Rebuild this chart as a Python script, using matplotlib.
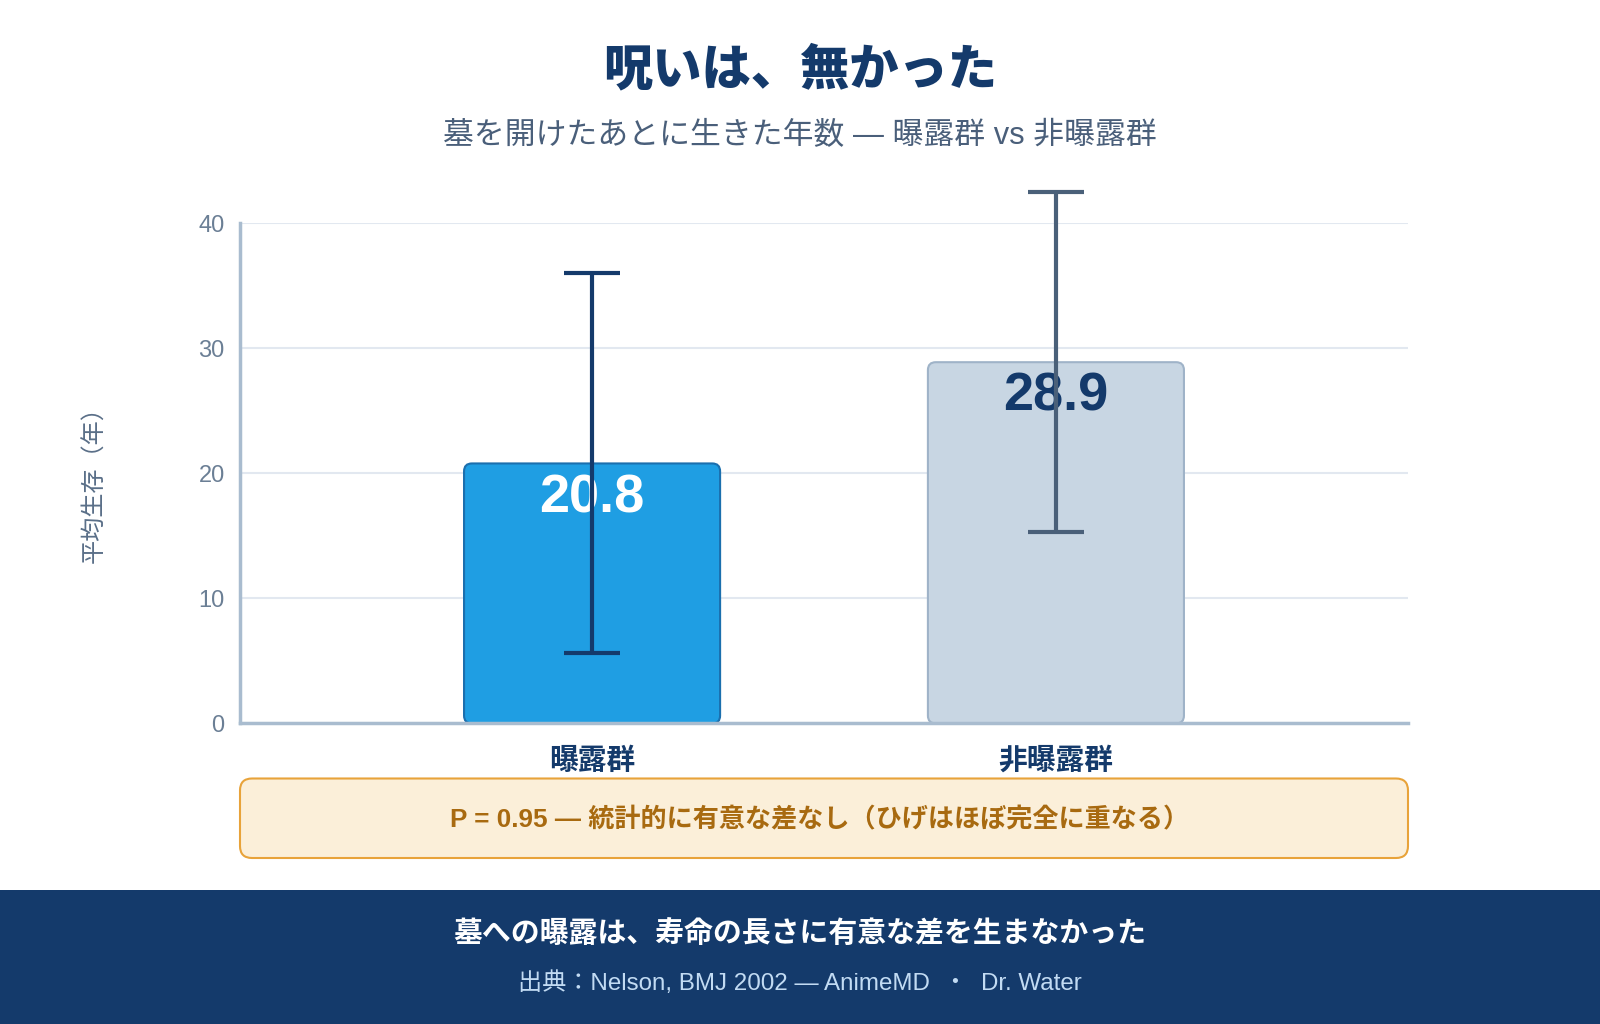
import matplotlib
matplotlib.use("Agg")
from matplotlib import pyplot as plt
from matplotlib.patches import FancyBboxPatch, Rectangle
import numpy as np

plt.rcParams['font.family'] = ['Liberation Sans', 'Noto Sans CJK JP']

# data
groups = ['曝露群', '非曝露群']
mean_years = [20.8, 28.9]
err_years = [15.2, 13.6]
y_ticks = [0, 10, 20, 30, 40]

title = '呪いは、無かった'
subtitle = '墓を開けたあとに生きた年数 — 曝露群 vs 非曝露群'
ylabel = '平均生存（年）'
note = 'P = 0.95 — 統計的に有意な差なし（ひげはほぼ完全に重なる）'
footer1 = '墓への曝露は、寿命の長さに有意な差を生まなかった'
footer2 = '出典：Nelson, BMJ 2002 — AnimeMD  ・  Dr. Water'

navy = '#143a6b'
bar_fill = ['#1f9ee3', '#c8d6e3']
bar_edge = ['#1b6fae', '#9fb3c8']
err_color = [navy, '#4a6079']
label_color = ['white', navy]

fig = plt.figure(figsize=(16, 10.24), dpi=100)
fig.patch.set_facecolor('white')

# pixel-coordinate layer for boxes and texts
bg = fig.add_axes([0, 0, 1, 1], zorder=0)
bg.set_xlim(0, 1600)
bg.set_ylim(1024, 0)
bg.axis('off')

ax = fig.add_axes([0.15, 0.2935, 0.73, 0.4883], zorder=1)
ax.set_facecolor('none')

x = np.arange(len(groups))
bars = ax.bar(x, mean_years, width=0.552)
for i, b in enumerate(bars):
    b.set_visible(False)
    rb = FancyBboxPatch((b.get_x(), b.get_y()), b.get_width(), b.get_height(),
                        boxstyle='round,pad=0,rounding_size=0.017', mutation_aspect=37,
                        fc=bar_fill[i], ec=bar_edge[i], lw=1.5, zorder=2)
    ax.add_patch(rb)

# value labels inside the bars
for i, v in enumerate(mean_years):
    ax.annotate(f'{v}', (x[i], v), xytext=(0, -25), textcoords='offset points',
                ha='center', va='center', fontsize=39, fontweight='bold',
                color=label_color[i], zorder=3)

# error bars
for i in range(len(groups)):
    eb = ax.errorbar(x[i], mean_years[i], yerr=err_years[i], fmt='none',
                     ecolor=err_color[i], elinewidth=3, capsize=20, capthick=3, zorder=4)
    for art in list(eb.lines[1]) + list(eb.lines[2]):
        art.set_clip_on(False)

ax.set_xlim(-0.759, 1.759)
ax.set_ylim(0, 40)
ax.set_yticks(y_ticks)
ax.yaxis.grid(True, color='#e2e8f0', lw=1.5)
ax.set_axisbelow(True)
for s in ['top', 'right']:
    ax.spines[s].set_visible(False)
for s in ['left', 'bottom']:
    ax.spines[s].set_color('#a9bccf')
    ax.spines[s].set_linewidth(2.5)
ax.tick_params(axis='y', length=0, pad=11, labelsize=17, labelcolor='#6b7f95')
ax.set_xticks(x, groups)
ax.tick_params(axis='x', length=0, pad=17, labelsize=20.7, labelcolor=navy)
for t in ax.get_xticklabels():
    t.set_fontweight('bold')

# titles
bg.text(800, 71, title, ha='center', va='center', fontsize=35.5, fontweight='black', color=navy)
bg.text(800, 136, subtitle, ha='center', va='center', fontsize=22.2, color='#4a5f7a')
bg.text(95, 479, ylabel, rotation=90, ha='center', va='center', fontsize=17.4, color='#5a6f88')

# note box
bg.add_patch(FancyBboxPatch((240, 778.5), 1168, 79.5, boxstyle='round,pad=0,rounding_size=12',
                            fc='#fbefd9', ec='#e8a33a', lw=1.5))
bg.text(820, 820, note, ha='center', va='center', fontsize=18.8, fontweight='bold', color='#a86a10')

# footer band
bg.add_patch(Rectangle((0, 890), 1600, 134, fc=navy, ec='none'))
bg.text(800, 935, footer1, ha='center', va='center', fontsize=20.8, fontweight='bold', color='white')
bg.text(800, 983, footer2, ha='center', va='center', fontsize=17.4, color='#c2dbf3')

fig.savefig('out.png', dpi=100, facecolor='white')
